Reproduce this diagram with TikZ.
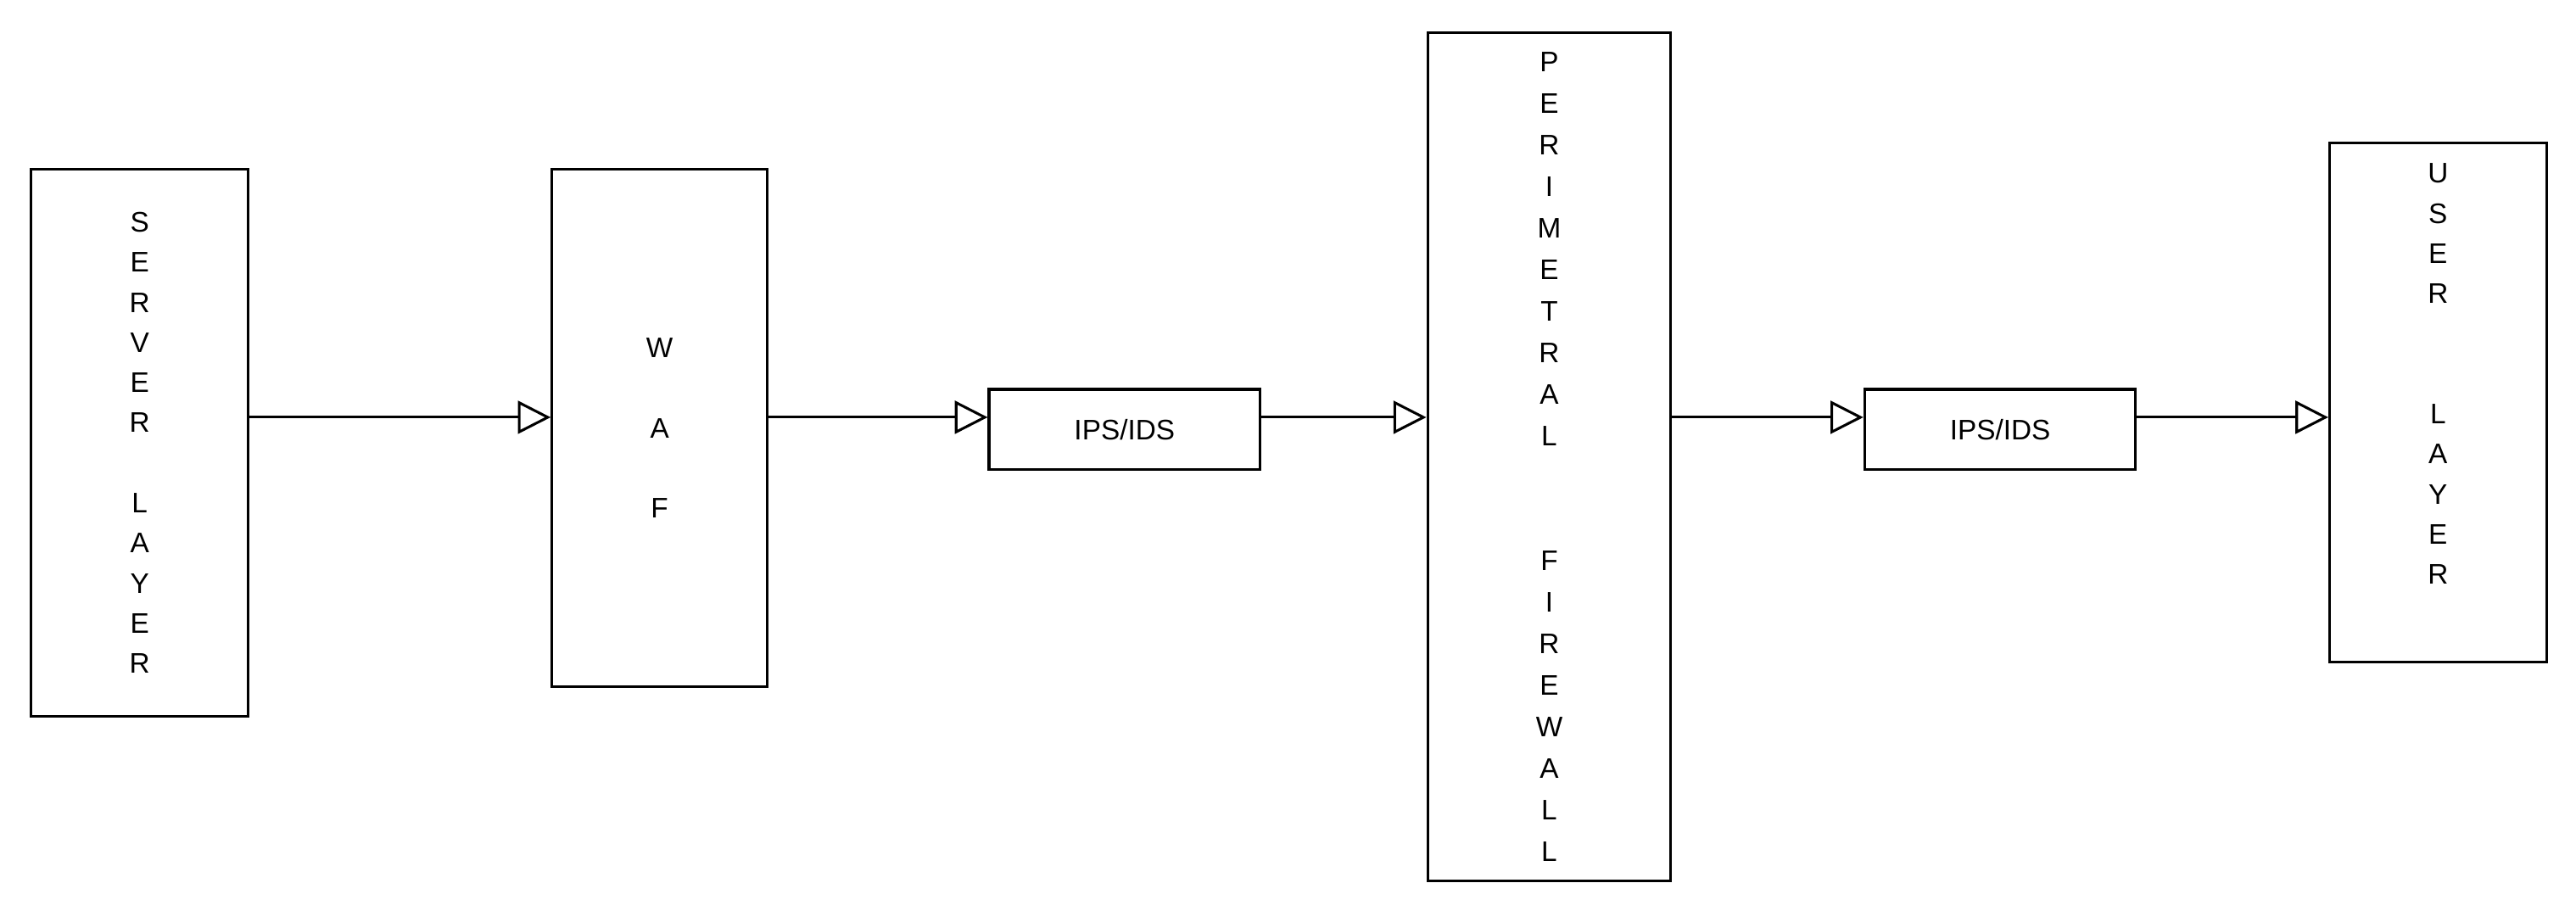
\documentclass[tikz,border=0pt]{standalone}
\usepackage{fontspec}
\setmainfont{Liberation Sans}
\usetikzlibrary{arrows.meta}
\begin{document}
\begin{tikzpicture}[x=0.02cm,y=-0.02cm,
  box/.style={draw,line width=0.9pt,inner sep=0pt,align=center,font=\fontsize{9.8}{13.9}\selectfont},
  conn/.style={line width=0.9pt,-{Triangle[open,fill=white,length=0.4cm,width=0.4cm]}}]
\useasboundingbox (0,0) rectangle (1568,554.5);
\node[box,minimum width=132*0.02cm,minimum height=333*0.02cm] (srv) at (85,269.5) {S\\E\\R\\V\\E\\R\\ \\L\\A\\Y\\E\\R};
\node[box,minimum width=131*0.02cm,minimum height=315*0.02cm] (waf) at (401.5,260.5) {W\\ \\A\\ \\F};
\node[box,minimum width=165*0.02cm,minimum height=49*0.02cm] (ips1) at (684.5,261.5) {IPS/IDS};
\node[box,minimum width=148*0.02cm,minimum height=516*0.02cm,font=\fontsize{9.8}{14.4}\selectfont] (per) at (943,278) {P\\E\\R\\I\\M\\E\\T\\R\\A\\L\\ \\ \\F\\I\\R\\E\\W\\A\\L\\L};
\node[box,minimum width=165*0.02cm,minimum height=49*0.02cm] (ips2) at (1217.5,261.5) {IPS/IDS};
\node[box,minimum width=132*0.02cm,minimum height=316*0.02cm] (usr) at (1484,245) {U\\S\\E\\R\\ \\ \\L\\A\\Y\\E\\R\\ \\[-8pt]};
\draw[conn] (srv.east |- 0,254) -- (waf.west |- 0,254);
\draw[conn] (waf.east |- 0,254) -- (ips1.west |- 0,254);
\draw[conn] (ips1.east |- 0,254) -- (per.west |- 0,254);
\draw[conn] (per.east |- 0,254) -- (ips2.west |- 0,254);
\draw[conn] (ips2.east |- 0,254) -- (usr.west |- 0,254);
\end{tikzpicture}
\end{document}
